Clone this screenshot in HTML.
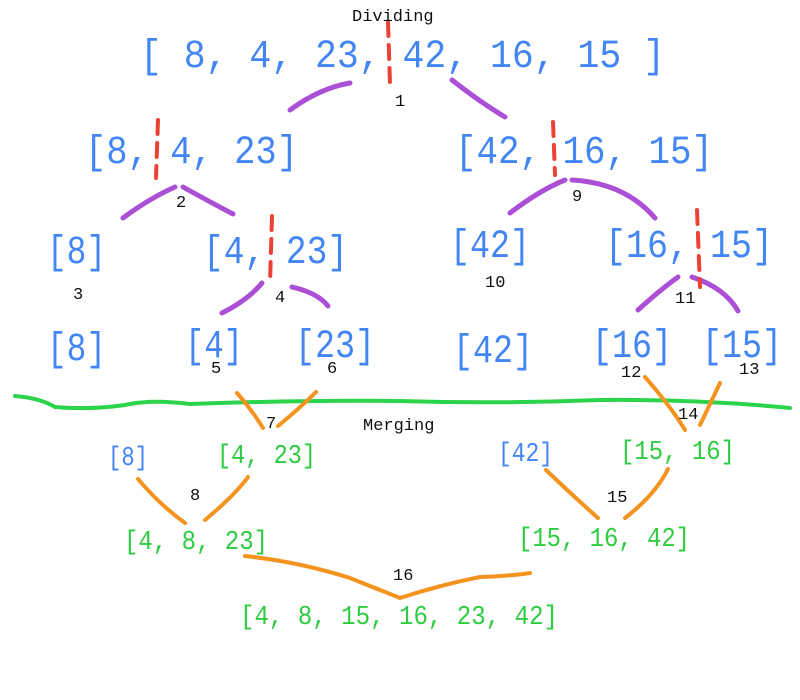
<!DOCTYPE html>
<html><head><meta charset="utf-8"><style>
html,body{margin:0;padding:0;background:#fff;width:800px;height:700px;overflow:hidden}
svg text{font-family:"Liberation Mono",monospace}
</style></head><body>
<svg width="800" height="700" viewBox="0 0 800 700">
<g fill="none" stroke-linecap="round">
<g stroke="#ab4fd6" stroke-width="5">
<path d="M290,110 Q320,88 350,83"/><path d="M452,80 Q480,102 505,117"/>
<path d="M123,218 Q150,198 175,187"/><path d="M183,187 Q210,202 233,214"/>
<path d="M510,213 Q540,190 565,180"/><path d="M572,180 Q625,183 655,218"/>
<path d="M222,313 Q248,300 262,283"/><path d="M292,287 Q318,293 328,306"/>
<path d="M638,310 Q660,290 678,277"/><path d="M692,277 Q725,288 738,311"/>
</g>
<g stroke="#ea4335" stroke-width="4" stroke-dasharray="14,9">
<path d="M388,22 L390,84"/><path d="M158,120 L156,178"/><path d="M553,122 L555,175"/>
<path d="M272,216 L270,283"/><path d="M697,210 L700,287"/>
</g>
<path stroke="#2bd44a" stroke-width="4" d="M15,396 Q40,398 55,407 Q90,410 125,405 Q150,399 190,404 Q300,400 400,401 Q500,404 600,400 Q700,399 790,408"/>
<g stroke="#f5931f" stroke-width="4">
<path d="M237,393 Q252,410 263,428"/><path d="M278,426 Q300,408 316,392"/>
<path d="M645,377 Q672,408 685,430"/><path d="M700,425 Q712,400 720,383"/>
<path d="M138,479 Q160,505 185,523"/><path d="M205,520 Q235,495 248,477"/>
<path d="M546,470 Q572,495 598,518"/><path d="M625,518 Q655,495 668,469"/>
<path d="M245,556 Q300,562 350,578 Q380,590 400,598 Q440,585 480,577 Q510,576 530,573"/>
</g>
</g>
<g fill="#111" font-size="17">
<text x="352" y="21">Dividing</text>
<text x="363" y="430">Merging</text>
<text x="395" y="106">1</text><text x="176" y="207">2</text><text x="572" y="201">9</text>
<text x="73" y="299">3</text><text x="275" y="302">4</text><text x="485" y="287">10</text><text x="675" y="303">11</text>
<text x="211" y="373">5</text><text x="327" y="373">6</text><text x="621" y="377">12</text><text x="739" y="374">13</text>
<text x="266" y="428">7</text><text x="678" y="419">14</text>
<text x="190" y="500">8</text><text x="607" y="502">15</text><text x="393" y="580">16</text>
</g>
<g fill="#4285f4" font-size="40">
<text x="140" y="67" textLength="525" lengthAdjust="spacingAndGlyphs">[ 8, 4, 23, 42, 16, 15 ]</text>
<text x="85" y="163" textLength="213" lengthAdjust="spacingAndGlyphs">[8, 4, 23]</text>
<text x="455" y="163" textLength="258" lengthAdjust="spacingAndGlyphs">[42, 16, 15]</text>
<text x="47" y="263" textLength="59" lengthAdjust="spacingAndGlyphs">[8]</text>
<text x="203" y="263" textLength="145" lengthAdjust="spacingAndGlyphs">[4, 23]</text>
<text x="450" y="257" textLength="80" lengthAdjust="spacingAndGlyphs">[42]</text>
<text x="605" y="257" textLength="168" lengthAdjust="spacingAndGlyphs">[16, 15]</text>
<text x="47" y="360" textLength="59" lengthAdjust="spacingAndGlyphs">[8]</text>
<text x="185" y="357" textLength="58" lengthAdjust="spacingAndGlyphs">[4]</text>
<text x="295" y="357" textLength="80" lengthAdjust="spacingAndGlyphs">[23]</text>
<text x="453" y="362" textLength="80" lengthAdjust="spacingAndGlyphs">[42]</text>
<text x="592" y="357" textLength="80" lengthAdjust="spacingAndGlyphs">[16]</text>
<text x="702" y="357" textLength="80" lengthAdjust="spacingAndGlyphs">[15]</text>
</g>
<g font-size="27">
<text fill="#4285f4" x="108" y="465" textLength="40" lengthAdjust="spacingAndGlyphs">[8]</text>
<text fill="#2ecc40" x="217" y="463" textLength="99" lengthAdjust="spacingAndGlyphs">[4, 23]</text>
<text fill="#4285f4" x="498" y="461" textLength="55" lengthAdjust="spacingAndGlyphs">[42]</text>
<text fill="#2ecc40" x="620" y="459" textLength="115" lengthAdjust="spacingAndGlyphs">[15, 16]</text>
<text fill="#2ecc40" x="124" y="549" textLength="144" lengthAdjust="spacingAndGlyphs">[4, 8, 23]</text>
<text fill="#2ecc40" x="518" y="546" textLength="172" lengthAdjust="spacingAndGlyphs">[15, 16, 42]</text>
<text fill="#2ecc40" x="240" y="624" textLength="318" lengthAdjust="spacingAndGlyphs">[4, 8, 15, 16, 23, 42]</text>
</g>
</svg>
</body></html>
